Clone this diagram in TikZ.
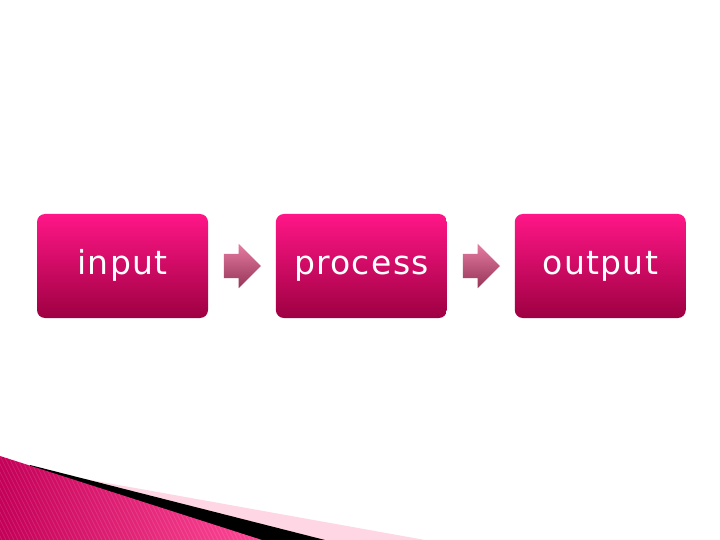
\documentclass[tikz,border=0pt]{standalone}
\usepackage{fontspec}
\usetikzlibrary{positioning,shapes.arrows}
\newfontfamily\stagefont[LetterSpace=4]{DejaVu Sans}
\definecolor{stagetop}{RGB}{255,22,135}
\definecolor{stagemid}{RGB}{238,6,112}
\definecolor{stagebot}{RGB}{158,0,66}
\definecolor{arrowtop}{RGB}{228,124,160}
\definecolor{arrowbot}{RGB}{150,52,88}
\definecolor{wedgedark}{RGB}{196,0,88}
\definecolor{wedgelight}{RGB}{255,72,150}
\definecolor{wedgepale}{RGB}{255,214,228}
\def\wedge{(0,456) -- (262,540) -- (0,540) -- cycle}
\tikzset{
  stagebox/.style={rounded corners=8pt, minimum width=171pt, minimum height=104pt,
    top color=stagetop, middle color=stagemid, bottom color=stagebot,
    text=white, font=\stagefont\fontsize{33}{40}\selectfont,
    text height=25pt, text depth=8pt},
  flowarrow/.style={single arrow, single arrow head extend=10pt, single arrow tip angle=90,
    inner sep=0pt, text width=0pt, text height=12pt, text depth=12pt, minimum height=37pt,
    top color=arrowtop, bottom color=arrowbot},
}

\begin{document}
\begin{tikzpicture}[x=1pt,y=-1pt]
  \useasboundingbox[fill=white] (0,0) rectangle (720,540);
  % stages
  \node[stagebox] (input) at (122.5,266) {input};
  \node[flowarrow, right=15.5pt of input] (arrowA) {};
  \node[stagebox, right=14.5pt of arrowA] (process) {process};
  \node[flowarrow, right=15.5pt of process] (arrowB) {};
  \node[stagebox, right=14.5pt of arrowB] (output) {output};
  % corner swoosh
  \fill[wedgepale] (85,479) -- (425,540) -- (0,540) -- cycle;
  \fill[black] (30,465) -- (325,540) -- (0,540) -- cycle;
  \shade[left color=wedgedark, right color=wedgelight] \wedge;
  \begin{scope}
    \clip \wedge;
    \foreach \i in {-60,-56,...,300}
      \draw[white, opacity=0.12, line width=0.8pt] (\i,440) -- (\i+50,540);
  \end{scope}
\end{tikzpicture}
\end{document}
